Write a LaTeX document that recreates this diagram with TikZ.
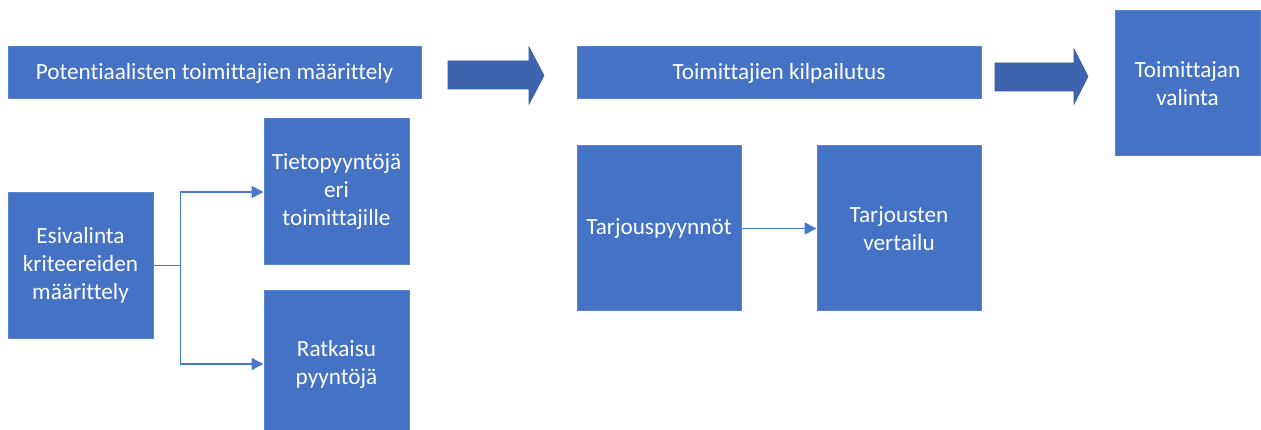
\documentclass[tikz,border=0pt]{standalone}
\usepackage{fontspec}
\setmainfont{Carlito}[Ligatures=NoCommon]
\usetikzlibrary{arrows.meta}
\definecolor{boxfill}{HTML}{4472C4}
\definecolor{boxline}{HTML}{5B84CC}
\definecolor{bigarrow}{HTML}{3D64AE}
\definecolor{bigarrowline}{HTML}{35599C}
\definecolor{conncol}{HTML}{4A78C8}
\tikzset{
  blk/.style={rectangle, fill=boxfill, draw=boxline, line width=1pt, inner sep=2pt,
    text=white, align=center, font=\fontsize{23.2}{28}\selectfont},
  conn/.style={draw=conncol, line width=1.6pt},
  tip/.style={conn, -{Triangle[length=12pt,width=12pt]}},
  blockarrow/.style={fill=bigarrow, draw=bigarrowline, line width=0.6pt, line join=miter}
}
\begin{document}
\begin{tikzpicture}[x=1pt,y=-1pt]
\clip (0,0) rectangle (1261,430);
\useasboundingbox (0,0) rectangle (1261,430);
\fill[white] (0,0) rectangle (1261,430);

\node[blk, minimum width=413pt, minimum height=52pt] (pot) at (214.5,73) {Potentiaalisten toimittajien määrittely};
\node[blk, minimum width=404pt, minimum height=52pt] (kil) at (779,73) {Toimittajien kilpailutus};
\node[blk, minimum width=145pt, minimum height=145pt] (val) at (1187.5,83.5) {Toimittajan\\valinta};
\node[blk, minimum width=145pt, minimum height=145pt] (esi) at (80.5,265.5) {Esivalinta\\kriteereiden\\määrittely};
\node[blk, minimum width=145pt, minimum height=146pt] (tie) at (336.5,192) {Tietopyyntöjä\\eri\\toimittajille};
\node[blk, minimum width=145pt, minimum height=146pt] (rat) at (336.5,364) {Ratkaisu\\pyyntöjä};
\node[blk, minimum width=164pt, minimum height=165pt] (tpy) at (659,228.5) {Tarjouspyynnöt};
\node[blk, minimum width=164pt, minimum height=165pt] (ver) at (899,228.5) {Tarjousten\\vertailu};

% block arrows
\draw[blockarrow] (448,61) -- (529,61) -- (529,47) -- (544,75.5) -- (529,104) -- (529,89) -- (448,89) -- cycle;
\draw[blockarrow] (995,63) -- (1074,63) -- (1074,49) -- (1088,76.5) -- (1074,104) -- (1074,91) -- (995,91) -- cycle;

% connectors
\draw[conn] (esi.east) -- ++(27,0) coordinate (br);
\draw[tip] (br) |- (tie.west);
\draw[tip] (br) |- (rat.west);
\draw[tip] (tpy.east) -- (ver.west);
\end{tikzpicture}
\end{document}
